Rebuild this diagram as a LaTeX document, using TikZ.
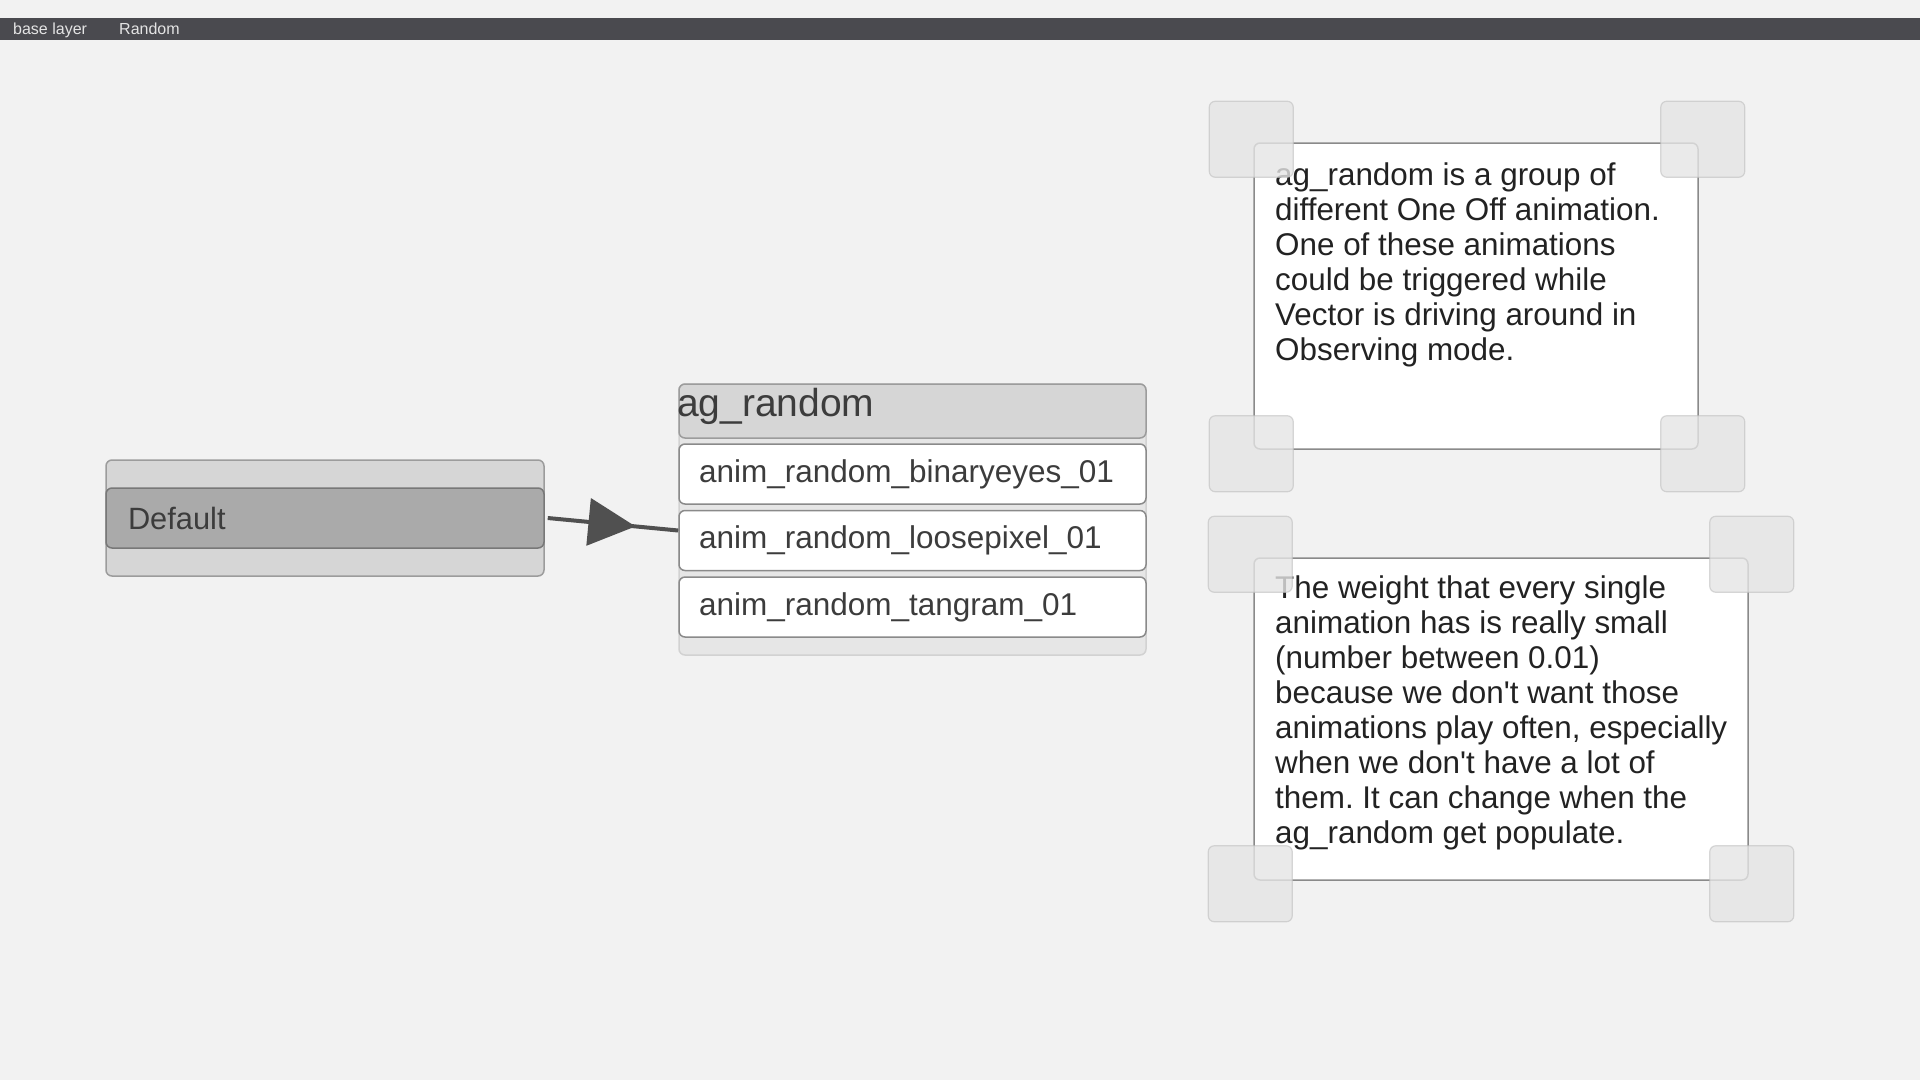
\documentclass[tikz,border=0pt]{standalone}
\usepackage{fontspec}
\setmainfont{Liberation Sans}
\usetikzlibrary{calc}
\definecolor{bg}{HTML}{F2F2F2}
\definecolor{barfill}{HTML}{4A4A4F}
\definecolor{bartxt}{HTML}{E4E4E4}
\definecolor{grpfill}{HTML}{D6D6D6}
\definecolor{grpline}{HTML}{9C9C9C}
\definecolor{selfill}{HTML}{AAAAAA}
\definecolor{selline}{HTML}{787878}
\definecolor{listfill}{HTML}{E6E6E6}
\definecolor{listline}{HTML}{D2D2D2}
\definecolor{itemline}{HTML}{8A8A8A}
\definecolor{txt}{HTML}{3C3C3C}
\definecolor{notetxt}{HTML}{222222}
\definecolor{arrowc}{HTML}{505050}
\tikzset{
  topbar/.style={rectangle, fill=barfill, minimum width=1920pt, minimum height=22pt, inner sep=0pt},
  bartext/.style={inner sep=0pt, text=bartxt, font=\fontsize{16}{18}\selectfont},
  grpbox/.style={rectangle, rounded corners=6pt, draw=grpline, line width=1.5pt, fill=grpfill, inner sep=0pt},
  selbox/.style={rectangle, rounded corners=6pt, draw=selline, line width=1.5pt, fill=selfill,
     minimum height=60pt, text width=394pt, inner xsep=22pt, inner ysep=0pt, align=left,
     text=txt, font=\fontsize{30.8}{34}\selectfont},
  listbox/.style={rectangle, rounded corners=6pt, draw=listline, line width=1.5pt, fill=listfill, inner sep=0pt},
  headbox/.style={rectangle, rounded corners=6pt, draw=grpline, line width=1.5pt, fill=grpfill, inner sep=0pt},
  itembox/.style={rectangle, rounded corners=6pt, draw=itemline, line width=1.5pt, fill=white,
     minimum height=60pt, text width=427pt, inner xsep=20pt, inner ysep=0pt, align=left,
     text=txt, font=\fontsize{31.5}{35}\selectfont},
  notebox/.style={rectangle, rounded corners=6pt, draw=itemline, line width=1.5pt, fill=white, inner sep=0pt},
  notetext/.style={inner sep=0pt, anchor=north west, align=left, text=notetxt,
     font=\fontsize{31.4}{35}\selectfont\frenchspacing},
  handle/.style={rectangle, rounded corners=6pt, draw=black!25, draw opacity=0.6, line width=1.2pt,
     fill=black!10, fill opacity=0.8, minimum width=84pt, minimum height=76pt, inner sep=0pt},
  conn/.style={draw=arrowc, fill=arrowc, line width=4pt},
}
\begin{document}
\begin{tikzpicture}[x=1pt,y=-1pt]
\useasboundingbox (0,0) rectangle (1920,1080);
\fill[bg] (0,0) rectangle (1920,1080);

% top bar
\node[topbar] (bar) at (960,29) {};
\node[bartext, anchor=base west] (tab1) at (13,34.5) {base layer};
\node[bartext, anchor=base west] (tab2) at (119,34.5) {Random};

% Default group
\node[grpbox, minimum width=438pt, minimum height=116pt] (defgroup) at (325,518) {};
\node[selbox] (default) at (325,518) {Default};

% ag_random group
\node[listbox, minimum width=467pt, minimum height=271pt] (grouplist) at (912.5,519.5) {};
\node[headbox, minimum width=467pt, minimum height=54pt] (grouphead) at (912.5,411) {};
\node[inner sep=0pt, anchor=base west, text=txt, font=\fontsize{39}{42}\selectfont] (grouptitle) at (677,416) {ag\_random};
\node[itembox] (item1) at (912.5,474) {anim\_random\_binaryeyes\_01};
\node[itembox] (item2) at (912.5,540.5) {anim\_random\_loosepixel\_01};
\node[itembox] (item3) at (912.5,607) {anim\_random\_tangram\_01};

% connector with mid arrowhead
\coordinate (as) at ([xshift=3pt]default.east);
\coordinate (ae) at ([yshift=10pt]item2.west);
\draw[conn] (as) -- (ae);
\coordinate (tip) at ($(as)!0.672!(ae)$);
\coordinate (bc) at ($(as)!0.313!(ae)$);
\fill[arrowc] (tip) -- ($(bc)!24pt!90:(tip)$) -- ($(bc)!24pt!-90:(tip)$) -- cycle;

% note 1
\node[notebox, minimum width=444pt, minimum height=306pt] (note1) at (1476,296) {};
\node[notetext] (note1text) at (1275,163) {ag\_random is a group of\\different One Off animation.\\One of these animations\\could be triggered while\\Vector is driving around in\\Observing mode.};
\node[handle] (n1tl) at ($(note1.north west)+(-2,-3)$) {};
\node[handle] (n1tr) at ($(note1.north east)+(4,-3)$) {};
\node[handle] (n1bl) at ($(note1.south west)+(-2,4)$) {};
\node[handle] (n1br) at ($(note1.south east)+(4,4)$) {};

% note 2
\node[notebox, minimum width=494pt, minimum height=322pt] (note2) at (1501,719) {};
\node[notetext] (note2text) at (1275,576) {The weight that every single\\animation has is really small\\(number between 0.01)\\because we don\textquotesingle t want those\\animations play often, especially\\when we don\textquotesingle t have a lot of\\them. It can change when the\\ag\_random get populate.};
\node[handle] (n2tl) at ($(note2.north west)+(-3,-3)$) {};
\node[handle] (n2tr) at ($(note2.north east)+(3,-3)$) {};
\node[handle] (n2bl) at ($(note2.south west)+(-3,3)$) {};
\node[handle] (n2br) at ($(note2.south east)+(3,3)$) {};
\end{tikzpicture}
\end{document}
